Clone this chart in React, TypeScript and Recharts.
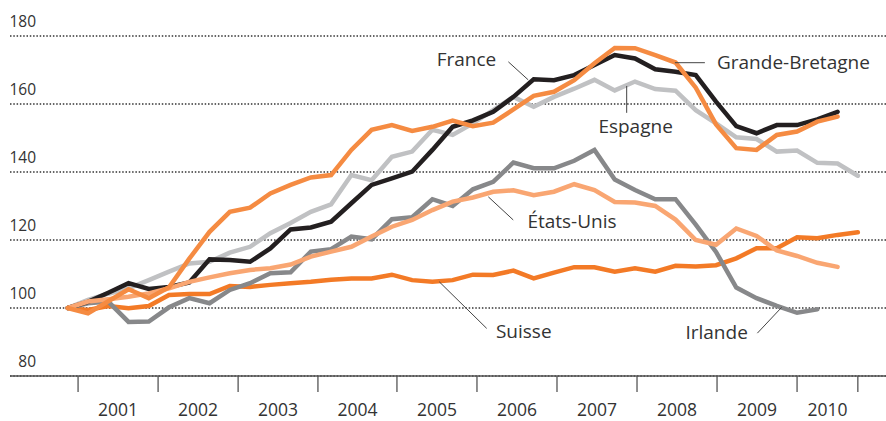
import React from 'react';
import { CartesianGrid, Line, LineChart, ReferenceDot, ReferenceLine, XAxis, YAxis } from 'recharts';

// quarterly index values, 2000 = 100
const france = [
  100, 101.8, 104.5, 107.3, 105.6, 106.2, 107.5, 114.3, 114.1, 113.6,
  117.5, 123.1, 123.7, 125.4, 130.8, 136.2, 138.1, 140.1, 146.5, 153.3,
  155.2, 157.7, 162.1, 167.3, 167, 168.5, 171.5, 174.4, 173.4, 170.2,
  169.5, 168.5, 160.7, 153.5, 151.4, 153.8, 153.8, 155.5, 157.7,
];
const grandeBretagne = [
  100, 98.4, 102, 105.5, 102.9, 106.1, 114.5, 122.4, 128.3, 129.5,
  133.7, 136.2, 138.4, 139.1, 146.5, 152.4, 153.8, 152.1, 153.3, 155.1,
  153.5, 154.5, 158.4, 162.4, 163.6, 167, 172, 176.5, 176.4, 174.4,
  172.2, 164.8, 154, 147, 146.5, 150.9, 151.9, 154.8, 156.3,
];
const espagne = [
  100, 102.4, 104.2, 105.8, 108.2, 110.7, 113.1, 113.6, 116.3, 118,
  122, 125, 128.3, 130.5, 139.1, 137.6, 144.5, 146, 152.4, 150.9,
  154.3, 158.2, 162.1, 159.2, 162.1, 164.5, 167.1, 164, 166.6, 164.4,
  163.9, 158.2, 154.3, 150.2, 149.7, 146, 146.3, 142.7, 142.5, 138.9,
];
const irlande = [
  100, 101.4, 101.9, 95.9, 96, 100.2, 102.9, 101.4, 105.3, 107.3,
  110.2, 110.5, 116.6, 117.3, 121, 120.2, 126.1, 126.7, 132, 130,
  134.9, 137.1, 142.8, 141.1, 141.1, 143.3, 146.5, 137.8, 134.7, 132,
  132, 124.5, 116.5, 106, 102.9, 100.6, 98.6, 99.6,
];
const etatsUnis = [
  100, 101.9, 102.6, 103.3, 104.3, 105.8, 107.7, 109, 110.2, 111.2,
  111.7, 112.8, 115.1, 116.6, 118, 121, 123.9, 125.9, 128.8, 131.3,
  132.5, 134.2, 134.6, 133.2, 134.2, 136.4, 134.7, 131.2, 131, 130,
  126, 120, 118.6, 123.4, 121.2, 116.9, 115.3, 113.3, 112.1,
];
const suisse = [
  100, 99.4, 100.6, 99.9, 100.6, 103.8, 104.1, 104.1, 106.5, 106.2,
  106.8, 107.3, 107.7, 108.3, 108.7, 108.7, 109.8, 108.2, 107.7, 108.2,
  109.8, 109.7, 111, 108.7, 110.4, 112, 112, 110.7, 111.7, 110.7,
  112.4, 112.2, 112.6, 114.6, 117.6, 117.6, 120.8, 120.5, 121.5, 122.3,
];

const yearLabels = ['2001', '2002', '2003', '2004', '2005', '2006', '2007', '2008', '2009', '2010'];
// year boundaries, in quarter index units
const yearBounds = [0.51, 4.46, 8.41, 12.35, 16.25, 20.2, 24.15, 28.1, 32.05, 36.0, 39.0];
const valueTicks = [80, 100, 120, 140, 160, 180];

// country labels: [name, i, value] and leader lines [i1, v1, i2, v2]
const labels: [string, number, number][] = [
  ['France', 19.68, 173.2],
  ['Grande-Bretagne', 35.82, 172.15],
  ['Espagne', 28.03, 153.5],
  ['États-Unis', 24.89, 125.4],
  ['Suisse', 22.51, 93.2],
  ['Irlande', 32.03, 93.0],
];
const leaders: [number, number, number, number][] = [
  [21.75, 172.4, 22.73, 167.1],
  [29.97, 172.15, 31.45, 172.15],
  [27.59, 165.3, 27.59, 157.4],
  [20.76, 132.7, 21.99, 125.9],
  [18.34, 107.7, 20.68, 94.0],
  [34.04, 92.6, 35.24, 100.2],
];

const rows = espagne.map((_, i) => ({
  i,
  france: france[i],
  gb: grandeBretagne[i],
  espagne: espagne[i],
  irlande: irlande[i],
  us: etatsUnis[i],
  suisse: suisse[i],
}));

const yearMids = yearLabels.map((_, k) => (yearBounds[k] + yearBounds[k + 1]) / 2);

const XTick = (props: any) => {
  const { x, y, payload } = props;
  const k = yearMids.indexOf(payload.value);
  if (k >= 0) {
    return (
      <text x={x} y={y + 40} textAnchor='middle' fontSize={17.5} fill='#333'>
        {yearLabels[k]}
      </text>
    );
  }
  return <line x1={x} x2={x} y1={y} y2={y + 16} stroke='#555' strokeWidth={1.3} />;
};

const YTick = (props: any) => {
  const { x, y, payload } = props;
  return (
    <text x={x + 26} y={y - 9} textAnchor='end' fontSize={15.5} fill='#333'>
      {payload.value}
    </text>
  );
};

const series = [
  { key: 'suisse', color: '#f37a26' },
  { key: 'espagne', color: '#c0c1c3' },
  { key: 'irlande', color: '#87888a' },
  { key: 'france', color: '#231f20' },
  { key: 'us', color: '#f9a672' },
  { key: 'gb', color: '#f58b42' },
];

export default function App() {
  return (
    <div style={{ position: 'absolute', left: 0, top: 0, fontFamily: '"Open Sans", sans-serif', background: '#fff' }}>
      <LineChart width={886} height={421} data={rows} margin={{ top: 36, right: 0, bottom: 0, left: 9 }}>
        <CartesianGrid vertical={false} stroke='#333' strokeWidth={1.5} strokeDasharray='1.5 1.8' />
        <XAxis
          type='number'
          dataKey='i'
          domain={[-2.85, 40.39]}
          ticks={[...yearBounds, ...yearMids]}
          interval={0}
          height={45}
          tickSize={0}
          tickMargin={0}
          tick={<XTick />}
          axisLine={{ stroke: '#555', strokeWidth: 1.5 }}
        />
        <YAxis
          domain={[80, 180]}
          ticks={valueTicks}
          width={1}
          tickSize={0}
          tickMargin={0}
          axisLine={false}
          tickLine={false}
          interval={0}
          tick={<YTick />}
        />
        {series.map((s) => (
          <Line
            key={s.key}
            type='linear'
            dataKey={s.key}
            stroke={s.color}
            strokeWidth={4.5}
            strokeLinecap='round'
            dot={false}
            isAnimationActive={false}
          />
        ))}
        {leaders.map(([a, b, c, d], k) => (
          <ReferenceLine key={k} segment={[{ x: a, y: b }, { x: c, y: d }]} stroke='#444' strokeWidth={1} />
        ))}
        {labels.map(([name, i, v]) => (
          <ReferenceDot
            key={name}
            x={i}
            y={v}
            r={0}
            fill='none'
            stroke='none'
            label={{ value: name, position: 'center', fontSize: 19, fill: '#333' }}
          />
        ))}
      </LineChart>
    </div>
  );
}
